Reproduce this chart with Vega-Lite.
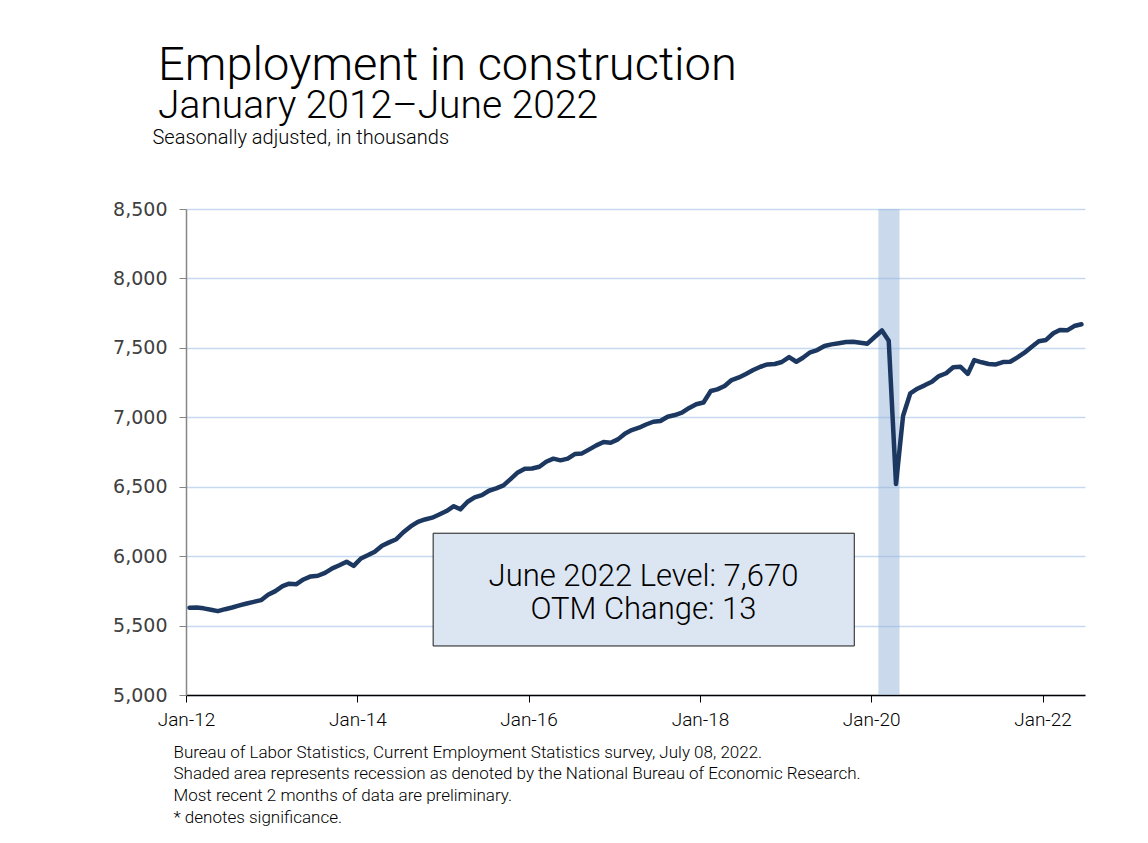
{
  "$schema": "https://vega.github.io/schema/vega-lite/v6.json",
  "width": 899,
  "height": 486,
  "autosize": {"type": "none"},
  "padding": {"left": 186, "top": 209, "right": 63, "bottom": 148},
  "background": "white",
  "title": {
    "text": "Employment in construction",
    "subtitle": "January 2012–June 2022",
    "anchor": "start",
    "frame": "group",
    "dx": -28,
    "offset": 0,
    "font": "Roboto",
    "fontSize": 47,
    "fontWeight": 300,
    "color": "#000000",
    "subtitleFont": "Roboto",
    "subtitleFontSize": 39,
    "subtitleFontWeight": 300,
    "subtitleColor": "#000000",
    "subtitlePadding": -3
  },
  "config": {
    "view": {"stroke": null},
    "font": "Roboto"
  },
  "datasets": {
    "employment": [
      {"date": "2012-01-16", "value": 5628}, {"date": "2012-02-16", "value": 5630}, {"date": "2012-03-16", "value": 5624}, {"date": "2012-04-16", "value": 5614}, {"date": "2012-05-16", "value": 5604}, {"date": "2012-06-16", "value": 5618}, {"date": "2012-07-16", "value": 5630}, {"date": "2012-08-16", "value": 5645}, {"date": "2012-09-16", "value": 5659}, {"date": "2012-10-16", "value": 5671}, {"date": "2012-11-16", "value": 5683}, {"date": "2012-12-16", "value": 5722},
      {"date": "2013-01-16", "value": 5748}, {"date": "2013-02-16", "value": 5784}, {"date": "2013-03-16", "value": 5802}, {"date": "2013-04-16", "value": 5798}, {"date": "2013-05-16", "value": 5832}, {"date": "2013-06-16", "value": 5854}, {"date": "2013-07-16", "value": 5859}, {"date": "2013-08-16", "value": 5880}, {"date": "2013-09-16", "value": 5912}, {"date": "2013-10-16", "value": 5934}, {"date": "2013-11-16", "value": 5960}, {"date": "2013-12-16", "value": 5930},
      {"date": "2014-01-16", "value": 5983}, {"date": "2014-02-16", "value": 6008}, {"date": "2014-03-16", "value": 6032}, {"date": "2014-04-16", "value": 6075}, {"date": "2014-05-16", "value": 6099}, {"date": "2014-06-16", "value": 6122}, {"date": "2014-07-16", "value": 6172}, {"date": "2014-08-16", "value": 6214}, {"date": "2014-09-16", "value": 6247}, {"date": "2014-10-16", "value": 6264}, {"date": "2014-11-16", "value": 6277}, {"date": "2014-12-16", "value": 6300},
      {"date": "2015-01-16", "value": 6325}, {"date": "2015-02-16", "value": 6360}, {"date": "2015-03-16", "value": 6337}, {"date": "2015-04-16", "value": 6392}, {"date": "2015-05-16", "value": 6423}, {"date": "2015-06-16", "value": 6440}, {"date": "2015-07-16", "value": 6471}, {"date": "2015-08-16", "value": 6488}, {"date": "2015-09-16", "value": 6510}, {"date": "2015-10-16", "value": 6555}, {"date": "2015-11-16", "value": 6603}, {"date": "2015-12-16", "value": 6630},
      {"date": "2016-01-16", "value": 6631}, {"date": "2016-02-16", "value": 6644}, {"date": "2016-03-16", "value": 6680}, {"date": "2016-04-16", "value": 6702}, {"date": "2016-05-16", "value": 6690}, {"date": "2016-06-16", "value": 6702}, {"date": "2016-07-16", "value": 6735}, {"date": "2016-08-16", "value": 6740}, {"date": "2016-09-16", "value": 6769}, {"date": "2016-10-16", "value": 6798}, {"date": "2016-11-16", "value": 6822}, {"date": "2016-12-16", "value": 6817},
      {"date": "2017-01-16", "value": 6841}, {"date": "2017-02-16", "value": 6884}, {"date": "2017-03-16", "value": 6908}, {"date": "2017-04-16", "value": 6925}, {"date": "2017-05-16", "value": 6948}, {"date": "2017-06-16", "value": 6968}, {"date": "2017-07-16", "value": 6973}, {"date": "2017-08-16", "value": 7004}, {"date": "2017-09-16", "value": 7016}, {"date": "2017-10-16", "value": 7033}, {"date": "2017-11-16", "value": 7067}, {"date": "2017-12-16", "value": 7094},
      {"date": "2018-01-16", "value": 7106}, {"date": "2018-02-16", "value": 7189}, {"date": "2018-03-16", "value": 7201}, {"date": "2018-04-16", "value": 7225}, {"date": "2018-05-16", "value": 7268}, {"date": "2018-06-16", "value": 7287}, {"date": "2018-07-16", "value": 7312}, {"date": "2018-08-16", "value": 7340}, {"date": "2018-09-16", "value": 7364}, {"date": "2018-10-16", "value": 7381}, {"date": "2018-11-16", "value": 7384}, {"date": "2018-12-16", "value": 7398},
      {"date": "2019-01-16", "value": 7434}, {"date": "2019-02-16", "value": 7400}, {"date": "2019-03-16", "value": 7429}, {"date": "2019-04-16", "value": 7468}, {"date": "2019-05-16", "value": 7484}, {"date": "2019-06-16", "value": 7513}, {"date": "2019-07-16", "value": 7525}, {"date": "2019-08-16", "value": 7533}, {"date": "2019-09-16", "value": 7542}, {"date": "2019-10-16", "value": 7544}, {"date": "2019-11-16", "value": 7537}, {"date": "2019-12-16", "value": 7530},
      {"date": "2020-01-16", "value": 7578}, {"date": "2020-02-16", "value": 7625}, {"date": "2020-03-16", "value": 7551}, {"date": "2020-04-16", "value": 6519}, {"date": "2020-05-16", "value": 7009}, {"date": "2020-06-16", "value": 7173}, {"date": "2020-07-16", "value": 7206}, {"date": "2020-08-16", "value": 7230}, {"date": "2020-09-16", "value": 7256}, {"date": "2020-10-16", "value": 7297}, {"date": "2020-11-16", "value": 7317}, {"date": "2020-12-16", "value": 7360},
      {"date": "2021-01-16", "value": 7364}, {"date": "2021-02-16", "value": 7312}, {"date": "2021-03-16", "value": 7412}, {"date": "2021-04-16", "value": 7396}, {"date": "2021-05-16", "value": 7384}, {"date": "2021-06-16", "value": 7381}, {"date": "2021-07-16", "value": 7398}, {"date": "2021-08-16", "value": 7400}, {"date": "2021-09-16", "value": 7431}, {"date": "2021-10-16", "value": 7465}, {"date": "2021-11-16", "value": 7508}, {"date": "2021-12-16", "value": 7547},
      {"date": "2022-01-16", "value": 7557}, {"date": "2022-02-16", "value": 7605}, {"date": "2022-03-16", "value": 7629}, {"date": "2022-04-16", "value": 7626}, {"date": "2022-05-16", "value": 7657}, {"date": "2022-06-16", "value": 7670}
    ],
    "single": [{}]
  },
  "layer": [
    {
      "data": {"name": "single"},
      "mark": {"type": "rect", "fill": "#95b3d7", "opacity": 0.5},
      "encoding": {
        "x": {"datum": {"year": 2020, "month": 2, "date": 1, "utc": true}, "type": "temporal"},
        "x2": {"datum": {"year": 2020, "month": 5, "date": 1, "utc": true}}
      }
    },
    {
      "data": {"name": "employment"},
      "mark": {"type": "line", "color": "#1c3861", "strokeWidth": 4.5, "strokeJoin": "round", "strokeCap": "round"},
      "encoding": {
        "x": {
          "field": "date",
          "type": "temporal",
          "scale": {"type": "utc", "domain": [{"year": 2012, "month": 1, "date": 1, "utc": true}, {"year": 2022, "month": 7, "date": 1, "utc": true}]},
          "axis": {
            "values": [
              {"year": 2012, "month": 1, "date": 1, "utc": true},
              {"year": 2014, "month": 1, "date": 1, "utc": true},
              {"year": 2016, "month": 1, "date": 1, "utc": true},
              {"year": 2018, "month": 1, "date": 1, "utc": true},
              {"year": 2020, "month": 1, "date": 1, "utc": true},
              {"year": 2022, "month": 1, "date": 1, "utc": true}
            ],
            "labelExpr": "utcFormat(datum.value, '%b-%y')",
            "labelFlush": false,
            "labelOverlap": false,
            "grid": false,
            "domainColor": "#000000",
            "domainWidth": 1.5,
            "tickColor": "#000000",
            "tickWidth": 1,
            "tickSize": 7,
            "labelFont": "Roboto",
            "labelFontWeight": 300,
            "labelFontSize": 19,
            "labelColor": "#000000",
            "labelPadding": 8,
            "title": [
              "Bureau of Labor Statistics, Current Employment Statistics survey, July 08, 2022.",
              "Shaded area represents recession as denoted by the National Bureau of Economic Research.",
              "Most recent 2 months of data are preliminary.",
              "* denotes significance."
            ],
            "titleFont": "Roboto",
            "titleFontWeight": 300,
            "titleFontSize": 17,
            "titleColor": "#000000",
            "titleAlign": "left",
            "titleAnchor": "start",
            "titleBaseline": "alphabetic",
            "titleX": -13,
            "titleY": 62,
            "titleLineHeight": 21.7
          }
        },
        "y": {
          "field": "value",
          "type": "quantitative",
          "scale": {"domain": [5000, 8500], "nice": false, "zero": false},
          "axis": {
            "values": [5000, 5500, 6000, 6500, 7000, 7500, 8000, 8500],
            "format": ",d",
            "grid": true,
            "gridColor": "#c6d9f1",
            "gridWidth": 1.5,
            "domainColor": "#868686",
            "domainWidth": 1.5,
            "tickColor": "#868686",
            "tickSize": 7,
            "labelFont": "DejaVu Sans",
            "labelFontSize": 19,
            "labelColor": "#404040",
            "labelPadding": 12,
            "title": "Seasonally adjusted, in thousands",
            "titleFont": "Roboto",
            "titleFontWeight": 300,
            "titleFontSize": 20,
            "titleColor": "#000000",
            "titleAngle": 0,
            "titleAlign": "left",
            "titleBaseline": "alphabetic",
            "titleX": -34,
            "titleY": -66
          }
        }
      }
    },
    {
      "data": {"name": "single"},
      "mark": {"type": "rect", "fill": "#dce6f2", "stroke": "#1a1a1a", "strokeWidth": 1},
      "encoding": {
        "x": {"datum": {"year": 2014, "month": 11, "date": 20, "utc": true}, "type": "temporal"},
        "x2": {"datum": {"year": 2019, "month": 10, "date": 21, "utc": true}},
        "y": {"datum": 6165, "type": "quantitative"},
        "y2": {"datum": 5353}
      }
    },
    {
      "data": {"name": "single"},
      "mark": {"type": "text", "text": ["June 2022 Level: 7,670", "OTM Change: 13"], "font": "Roboto", "fontWeight": 300, "fontSize": 31, "lineHeight": 33, "align": "center", "baseline": "middle", "color": "#000000"},
      "encoding": {
        "x": {"datum": {"year": 2017, "month": 5, "date": 5, "utc": true}, "type": "temporal"},
        "y": {"datum": 5850, "type": "quantitative"}
      }
    }
  ]
}
